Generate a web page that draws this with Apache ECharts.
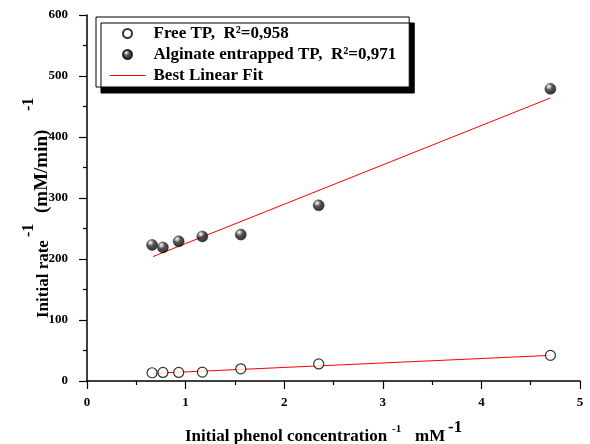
<!DOCTYPE html>
<html>
<head>
<meta charset="utf-8">
<script src="https://cdn.jsdelivr.net/npm/echarts@6/dist/echarts.min.js"></script>
<style>
  html, body { margin: 0; padding: 0; background: #fff; }
  #chart { width: 590px; height: 444px; }
</style>
</head>
<body>
<div id="chart"></div>
<script>
// Lineweaver-Burk data: 1/[phenol] (mM^-1) vs 1/initial rate ((mM/min)^-1)
const invConc      = [0.66, 0.77, 0.93, 1.17, 1.56, 2.35, 4.70];
const freeRate     = [13.5, 14, 14, 14.5, 20, 28, 42];
const entrapRate   = [223, 219, 229, 237, 240, 288, 479];

// end points of the fitted straight lines
const fitX         = [0.67, 4.70];
const fitFree      = [12.5, 42];
const fitEntrap    = [204, 464];

// axis ticks
const xTicks = { min: 0, max: 5, step: 1 };
const yTicks = { min: 0, max: 600, step: 100 };

const nameFree   = 'Free TP,  R\u00b2=0,958';
const nameEntrap = 'Alginate entrapped TP,  R\u00b2=0,971';
const nameFit    = 'Best Linear Fit';

const serif = '"Liberation Serif", "Times New Roman", serif';
const fitColor = '#ff0000';

const zip = (xs, ys) => xs.map((x, i) => [x, ys[i]]);

const sphere = {
  type: 'radial', x: 0.36, y: 0.3, r: 0.75,
  colorStops: [
    { offset: 0, color: '#ffffff' },
    { offset: 0.16, color: '#b0b0b0' },
    { offset: 0.42, color: '#262626' },
    { offset: 1, color: '#000000' }
  ]
};

const axisCommon = {
  axisLine: { show: true, lineStyle: { color: '#000', width: 1.5 } },
  axisTick: { show: true, inside: false, length: 8, lineStyle: { color: '#000', width: 1.2 } },
  minorTick: { show: true, splitNumber: 2, length: 4, lineStyle: { color: '#000', width: 1.2 } },
  splitLine: { show: false },
  axisLabel: { color: '#000', fontFamily: serif, fontWeight: 'bold', fontSize: 13 }
};

const chart = echarts.init(document.getElementById('chart'), null, { renderer: 'canvas' });

chart.setOption({
  backgroundColor: '#fff',
  animation: false,
  grid: { left: 87, right: 10, top: 15, bottom: 63, containLabel: false },
  xAxis: Object.assign({}, axisCommon, {
    type: 'value', min: xTicks.min, max: xTicks.max, interval: xTicks.step,
    axisLabel: Object.assign({}, axisCommon.axisLabel, { margin: 15 })
  }),
  yAxis: Object.assign({}, axisCommon, {
    type: 'value', min: yTicks.min, max: yTicks.max, interval: yTicks.step,
    axisLabel: Object.assign({}, axisCommon.axisLabel, { margin: 19 })
  }),
  legend: {
    orient: 'vertical',
    left: 96, top: 17,
    padding: [8, 13, 3, 13],
    itemWidth: 36, itemHeight: 9, itemGap: 4,
    backgroundColor: '#fff',
    borderColor: '#000', borderWidth: 1,
    shadowColor: '#000', shadowBlur: 0, shadowOffsetX: 5, shadowOffsetY: 6,
    textStyle: { color: '#000', fontFamily: serif, fontWeight: 'bold', fontSize: 17, padding: [0, 0, 0, 3] },
    data: [
      nameFree,
      nameEntrap,
      // plain red stroke as the key for the fitted lines (no point marker)
      { name: nameFit,
        itemStyle: { color: 'rgba(0,0,0,0)', borderColor: 'rgba(0,0,0,0)', borderWidth: 0, opacity: 0 },
        lineStyle: { color: fitColor, width: 1 } }
    ]
  },
  graphic: [
    // partly visible caption above the plot
    { type: 'text', left: 199, top: -14, silent: true,
      style: { text: 'Alginate entrapped TP', fill: '#a8a8a8', font: '15px ' + serif } },
    // x axis title with superscripts
    { type: 'text', x: 185, y: 437, style: { text: 'Initial phenol concentration', fill: '#000',
      font: 'bold 17px ' + serif, verticalAlign: 'middle' } },
    { type: 'text', x: 392, y: 429.5, style: { text: '-1', fill: '#000',
      font: 'bold 11px ' + serif, verticalAlign: 'middle' } },
    { type: 'text', x: 415, y: 437, style: { text: 'mM', fill: '#000',
      font: 'bold 17px ' + serif, verticalAlign: 'middle' } },
    { type: 'text', x: 448, y: 428, style: { text: '-1', fill: '#000',
      font: 'bold 17px ' + serif, verticalAlign: 'middle' } },
    // y axis title, reading bottom to top
    { type: 'group', x: 43.5, y: 318, rotation: Math.PI / 2, children: [
      { type: 'text', x: 0, y: 0, style: { text: 'Initial rate', fill: '#000',
        font: 'bold 17px ' + serif, verticalAlign: 'middle' } },
      { type: 'text', x: 81, y: -14.5, style: { text: '-1', fill: '#000',
        font: 'bold 16px ' + serif, verticalAlign: 'middle' } },
      { type: 'text', x: 105, y: -1, style: { text: '(mM/min)', fill: '#000',
        font: 'bold 19px ' + serif, verticalAlign: 'middle' } },
      { type: 'text', x: 207, y: -14.5, style: { text: '-1', fill: '#000',
        font: 'bold 16px ' + serif, verticalAlign: 'middle' } }
    ] }
  ],
  series: [
    {
      name: nameFit, type: 'line', data: zip(fitX, fitFree),
      symbol: 'none', lineStyle: { color: fitColor, width: 1 }, itemStyle: { color: fitColor }, z: 2
    },
    {
      name: nameFit, type: 'line', data: zip(fitX, fitEntrap),
      symbol: 'none', lineStyle: { color: fitColor, width: 1 }, itemStyle: { color: fitColor }, z: 2
    },
    {
      name: nameFree, type: 'scatter', data: zip(invConc, freeRate),
      symbol: 'circle', symbolSize: 10,
      itemStyle: { color: '#fff', borderColor: '#000', borderWidth: 1.2 }, z: 3
    },
    {
      name: nameEntrap, type: 'scatter', data: zip(invConc, entrapRate),
      symbol: 'circle', symbolSize: 11,
      itemStyle: { color: sphere, borderColor: '#000', borderWidth: 0.5 }, z: 3
    }
  ]
});
</script>
</body>
</html>
